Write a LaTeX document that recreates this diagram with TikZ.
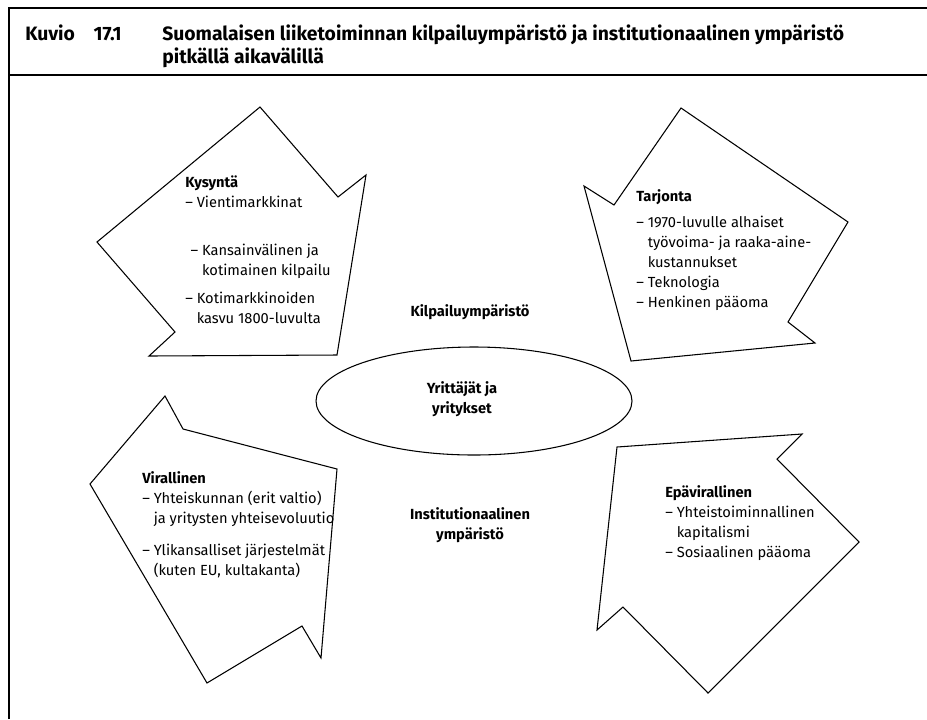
\documentclass[tikz,border=0pt]{standalone}
\usepackage{fontspec}
\setmainfont{Fira Sans}
\usetikzlibrary{shapes.geometric}

\begin{document}
\begin{tikzpicture}[
  x=0.75pt,
  y=-0.75pt,
  font=\fontsize{11}{15}\selectfont,
  frame/.style={line width=1pt},
  arrowshape/.style={draw, line width=0.8pt, line join=miter},
  block/.style={anchor=base west, align=left, inner sep=0pt},
  middle/.style={align=center, inner sep=0pt, font=\bfseries\fontsize{11}{15}\selectfont},
  titletext/.style={anchor=base west, align=left, inner sep=0pt, font=\bfseries\fontsize{14.5}{17.25}\selectfont}
]
  \useasboundingbox (0,0) rectangle (927,719);

  \draw[frame] (9,719) -- (9,8) -- (927,8);
  \draw[frame] (9,75) -- (927,75);

  \node[titletext] (kuvio) at (25,40) {Kuvio\hspace{14pt}17.1};
  \node[titletext] (otsikko) at (162,63) {Suomalaisen liiketoiminnan kilpailuympäristö ja institutionaalinen ympäristö\\pitkällä aikavälillä};

  \draw[arrowshape] (260,107) -- (338,197) -- (366,175) -- (337,355) -- (149,356) -- (175,332) -- (97,242) -- cycle;
  \draw[arrowshape] (681,108) -- (848,222) -- (788,322) -- (815,343) -- (631,361) -- (584,186) -- (614,205) -- cycle;
  \draw[arrowshape] (165,396) -- (183,429) -- (337,469) -- (321,658) -- (302,626) -- (207,683) -- (90,484) -- cycle;
  \draw[arrowshape] (617,447) -- (802,434) -- (777,459) -- (859,542) -- (708,693) -- (623,607) -- (597,630) -- cycle;

  \node[block] (kysynta) at (185,323) {\textbf{Kysyntä}\\
    -- Vientimarkkinat\\[21pt]%
    \hspace{4pt}-- Kansainvälinen ja\\
    \hspace{4pt}\phantom{-- }kotimainen kilpailu\\[6pt]%
    -- Kotimarkkinoiden\\
    \phantom{-- }kasvu 1800-luvulta};

  \node[block] (tarjonta) at (636,307) {\textbf{Tarjonta}\\[4pt]%
    -- 1970-luvulle alhaiset\\
    \phantom{-- }työvoima- ja raaka-aine-\\
    \phantom{-- }kustannukset\\
    -- Teknologia\\
    -- Henkinen pääoma};

  \node[block] (virallinen) at (142,575) {\textbf{Virallinen}\\
    -- Yhteiskunnan (erit valtio)\\
    \phantom{-- }ja yritysten yhteisevoluutio\\[9pt]%
    -- Ylikansalliset järjestelmät\\
    \phantom{-- }(kuten EU, kultakanta)};

  \node[block] (epavirallinen) at (665,557) {\textbf{Epävirallinen}\\
    -- Yhteistoiminnallinen\\
    \phantom{-- }kapitalismi\\
    -- Sosiaalinen pääoma};

  \node[middle] (kilpailu) at (470,312) {Kilpailuympäristö};
  \node[draw, ellipse, line width=0.8pt, minimum width=237pt, minimum height=81pt] (yrittajat) at (474,401) {};
  \node[middle] (yrittajatteksti) at (462,399) {Yrittäjät ja\\yritykset};
  \node[middle] (instituutio) at (470,525) {Institutionaalinen\\ympäristö};
\end{tikzpicture}
\end{document}
